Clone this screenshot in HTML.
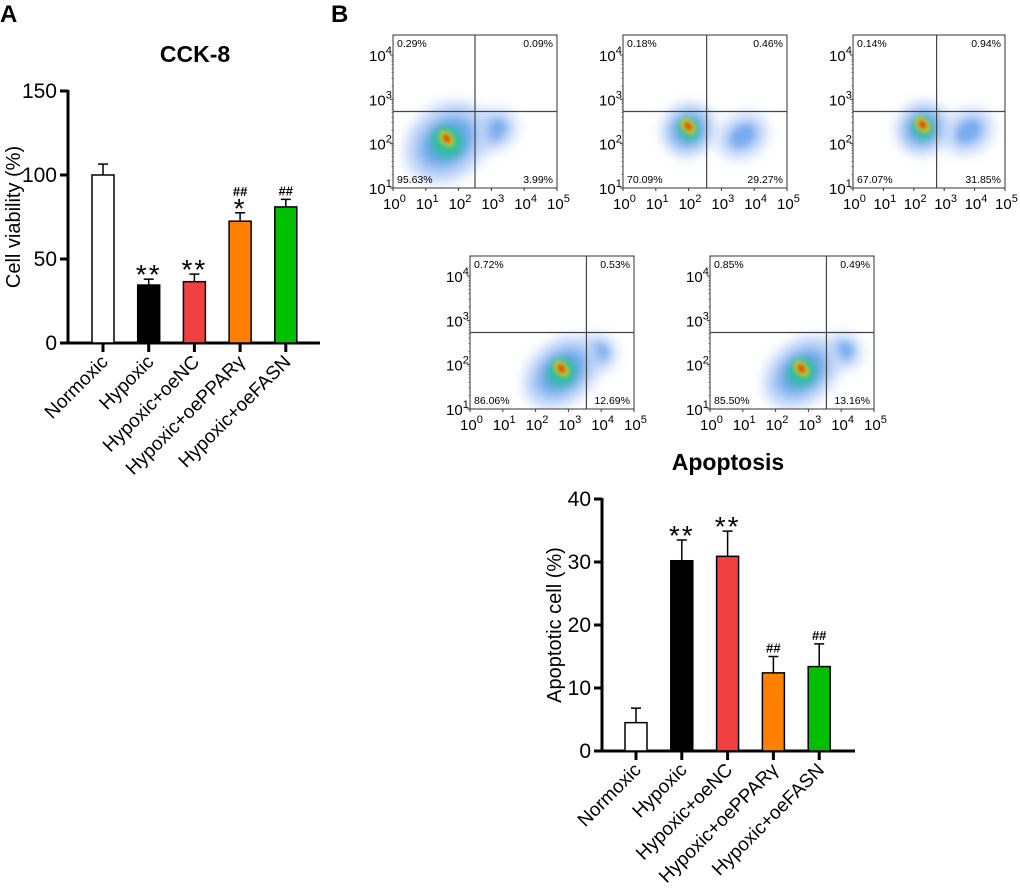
<!DOCTYPE html>
<html><head><meta charset="utf-8"><style>
html,body{margin:0;padding:0;background:#fff;}
svg{display:block;font-family:"Liberation Sans",Arial,sans-serif;}
</style></head><body>
<svg id="fig" width="1020" height="890" viewBox="0 0 1020 890">
<defs>
<filter id="blur6" x="-50%" y="-50%" width="200%" height="200%"><feGaussianBlur stdDeviation="6"/></filter>
<filter id="blur4" x="-50%" y="-50%" width="200%" height="200%"><feGaussianBlur stdDeviation="4"/></filter>
<filter id="blur2" x="-50%" y="-50%" width="200%" height="200%"><feGaussianBlur stdDeviation="2"/></filter>
</defs>
<text x="0" y="22" font-size="24" font-weight="bold">A</text>
<text x="331" y="22" font-size="24" font-weight="bold">B</text>
<g id="cck"></g>
<g id="apo"></g>
<g id="flow"></g>
</svg>
<script>
const NS="http://www.w3.org/2000/svg";
function mk(tag,attrs,parent,txt){const e=document.createElementNS(NS,tag);for(const k in attrs)e.setAttribute(k,attrs[k]);if(txt!==undefined)e.textContent=txt;parent.appendChild(e);return e;}

const categories=["Normoxic","Hypoxic","Hypoxic+oeNC","Hypoxic+oePPARγ","Hypoxic+oeFASN"];
const colors=["#ffffff","#000000","#f04040","#ff8000","#00c000"];
const cckValues=[100,34.5,36.5,72.5,81];
const cckErrors=[6.5,3.5,4.5,5,4.5];
const cckMarks=["","**","**","*","##"];
const cckMarks2=["","","","##",""];
const cckTicks=[0,50,100,150];
const apoValues=[4.5,30.2,30.9,12.4,13.4];
const apoErrors=[2.3,3.3,4.0,2.6,3.6];
const apoMarks=["","**","**","##","##"];
const apoTicks=[0,10,20,30,40];

function barChart(g,o){
  const y=v=>o.y0-(v-o.min)/(o.max-o.min)*(o.y0-o.yTop);
  const x=i=>o.x0+o.first+i*o.step;
  const t=mk('text',{x:o.titleX,y:o.titleY,'font-size':23,'font-weight':'bold','text-anchor':'middle'},g,o.title);
  
  const ax=mk('line',{x1:o.x0,y1:o.yTop-1,x2:o.x0,y2:o.y0+1.5,stroke:'#000','stroke-width':3},g);
  
  const bx=mk('line',{x1:o.x0-1.5,y1:o.y0,x2:o.xEnd,y2:o.y0,stroke:'#000','stroke-width':3},g);
  
  o.ticks.forEach(v=>{
    mk('line',{x1:o.x0-8,y1:y(v),x2:o.x0,y2:y(v),stroke:'#000','stroke-width':3},g);
    const tl=mk('text',{x:o.x0-11,y:y(v)+7,'font-size':21,'text-anchor':'end'},g,String(v));
    
  });
  const yt=mk('text',{transform:`translate(${o.ytX},${(o.y0+o.yTop)/2}) rotate(-90)`,'font-size':20,'text-anchor':'middle'},g,o.yTitle);
  
  o.vals.forEach((v,i)=>{
    const cx=x(i),w=22;
    const ey=y(v+o.errs[i]);
    mk('line',{x1:cx,y1:y(v),x2:cx,y2:ey,stroke:'#000','stroke-width':1.5},g);
    mk('line',{x1:cx-5,y1:ey,x2:cx+5,y2:ey,stroke:'#000','stroke-width':1.5},g);
    const r=mk('rect',{x:cx-w/2,y:y(v),width:w,height:o.y0-y(v),fill:o.colors[i],stroke:'#000','stroke-width':1.5},g);
    
    mk('line',{x1:cx,y1:o.y0,x2:cx,y2:o.y0+9,stroke:'#000','stroke-width':3},g);
    if(o.marks[i]){
      const isStar=o.marks[i].indexOf('*')>=0;
      const m=mk('text',{x:cx,y:isStar?ey+5:ey-4,'font-size':isStar?28:13,'text-anchor':'middle','font-weight':isStar?'normal':'bold','letter-spacing':isStar?2:0},g,o.marks[i]);
      
      if(o.marks2&&o.marks2[i]){
        const m2=mk('text',{x:cx,y:ey-17,'font-size':13,'text-anchor':'middle','font-weight':'bold'},g,o.marks2[i]);
        
      }
    }
    const lab=mk('text',{transform:`translate(${cx+6},${o.y0+20}) rotate(-45)`,'font-size':19,'text-anchor':'end'},g,o.cats[i]);
    
  });
}
barChart(document.getElementById('cck'),{prefix:'cck8',title:'CCK-8',titleX:195,titleY:62,x0:68,xEnd:320,y0:343,yTop:91,min:0,max:150,first:35,step:45.7,ticks:cckTicks,vals:cckValues,errs:cckErrors,marks:cckMarks,marks2:cckMarks2,colors:colors,cats:categories,yTitle:'Cell viability (%)',ytX:20});
barChart(document.getElementById('apo'),{prefix:'apoptosis',title:'Apoptosis',titleX:728,titleY:470,x0:602,xEnd:855,y0:751,yTop:499,min:0,max:40,first:34,step:45.8,ticks:apoTicks,vals:apoValues,errs:apoErrors,marks:apoMarks,colors:colors,cats:categories,yTitle:'Apoptotic cell (%)',ytX:561});

// Flow cytometry quadrant plots
const flowLeft=[393,623,853,470,710];
const flowTop=[35,35,35,256,256];
const flowWidth=[164,164,152,164,164];
const gateXFrac=[0.50,0.51,0.55,0.71,0.71];
const q1=["0.29%","0.18%","0.14%","0.72%","0.85%"];
const q2=["0.09%","0.46%","0.94%","0.53%","0.49%"];
const q3=["95.63%","70.09%","67.07%","86.06%","85.50%"];
const q4=["3.99%","29.27%","31.85%","12.69%","13.16%"];
// cluster centers in fractions of plot box: [x,y,rx,ry]
const mainCluster=[[0.33,0.70,0.28,0.24],[0.40,0.62,0.17,0.17],[0.46,0.61,0.18,0.17],[0.56,0.76,0.26,0.2],[0.56,0.76,0.26,0.2]];
const sideCluster=[[0.62,0.62,0.14,0.13],[0.73,0.66,0.16,0.14],[0.76,0.63,0.17,0.14],[0.79,0.63,0.1,0.12],[0.82,0.62,0.1,0.12]];
const fg=document.getElementById('flow');
const H=153;
flowLeft.forEach((L,p)=>{
  const T=flowTop[p], W=flowWidth[p];
  const g=mk('g',{},fg);
  
  const c=mk('g',{},g);
  const cp=mk('clipPath',{id:'cp'+p},g);mk('rect',{x:L,y:T,width:W,height:H},cp);
  c.setAttribute('clip-path','url(#cp'+p+')');
  const s=sideCluster[p],sx=L+s[0]*W,sy=T+s[1]*H;
  mk('ellipse',{cx:sx,cy:sy,rx:s[2]*W,ry:s[3]*H,fill:'#b8cff8',opacity:0.9,filter:'url(#blur6)',transform:`rotate(-35 ${sx} ${sy})`},c);
  mk('ellipse',{cx:sx,cy:sy,rx:s[2]*W*0.55,ry:s[3]*H*0.5,fill:'#5a9be8',opacity:0.7,filter:'url(#blur4)',transform:`rotate(-35 ${sx} ${sy})`},c);
  const m=mainCluster[p],mx=L+m[0]*W,my=T+m[1]*H;
  const rot=`rotate(-40 ${mx} ${my})`;
  mk('ellipse',{cx:mx,cy:my,rx:m[2]*W,ry:m[3]*H,fill:'#bcd2f8',opacity:0.95,filter:'url(#blur6)',transform:rot},c);
  mk('ellipse',{cx:mx,cy:my,rx:m[2]*W*0.65,ry:m[3]*H*0.6,fill:'#5a9ee8',opacity:0.85,filter:'url(#blur6)',transform:rot},c);
  mk('ellipse',{cx:mx,cy:my,rx:m[2]*W*0.35,ry:m[3]*H*0.45,fill:'#2fbf9a',opacity:0.9,filter:'url(#blur4)',transform:rot},c);
  mk('ellipse',{cx:mx+2,cy:my-3,rx:6,ry:9,fill:'#c8d820',filter:'url(#blur2)',transform:rot},c);
  mk('ellipse',{cx:mx+2,cy:my-3,rx:3,ry:5,fill:'#e03010',filter:'url(#blur2)',transform:rot},c);
  mk('rect',{x:L,y:T,width:W,height:H,fill:'none',stroke:'#333','stroke-width':1},g);
  const gx=L+gateXFrac[p]*W, gy=T+0.5*H;
  mk('line',{x1:gx,y1:T,x2:gx,y2:T+H,stroke:'#444','stroke-width':1.2},g);
  mk('line',{x1:L,y1:gy,x2:L+W,y2:gy,stroke:'#444','stroke-width':1.2},g);
  [[q1[p],L+4,T+12,'start'],[q2[p],L+W-4,T+12,'end'],[q3[p],L+4,T+H-5,'start'],[q4[p],L+W-4,T+H-5,'end']].forEach(a=>{
    const t=mk('text',{x:a[1],y:a[2],'font-size':10.5,'text-anchor':a[3]},g,a[0]);
    
  });
  for(let k=1;k<=4;k++){
    const yy=T+H-(k-1)*(H-20)/3;
    mk('line',{x1:L-3,y1:yy,x2:L,y2:yy,stroke:'#333'},g);
    for(let j=2;j<10&&k<4;j++){const ym=yy-Math.log10(j)*(H-20)/3;mk('line',{x1:L-1.5,y1:ym,x2:L,y2:ym,stroke:'#333','stroke-width':0.6},g);}
    const t=mk('text',{x:L-24,y:yy+6,'font-size':15},g);
    
    t.appendChild(document.createTextNode('10'));
    mk('tspan',{'font-size':11,dy:-7},t,String(k));
  }
  for(let k=0;k<=5;k++){
    const xx=L+k*W/5;
    mk('line',{x1:xx,y1:T+H,x2:xx,y2:T+H+3,stroke:'#333'},g);
    const t=mk('text',{x:xx-10,y:T+H+21,'font-size':15},g);
    
    t.appendChild(document.createTextNode('10'));
    mk('tspan',{'font-size':11,dy:-7},t,String(k));
  }
});
</script>
</body></html>
